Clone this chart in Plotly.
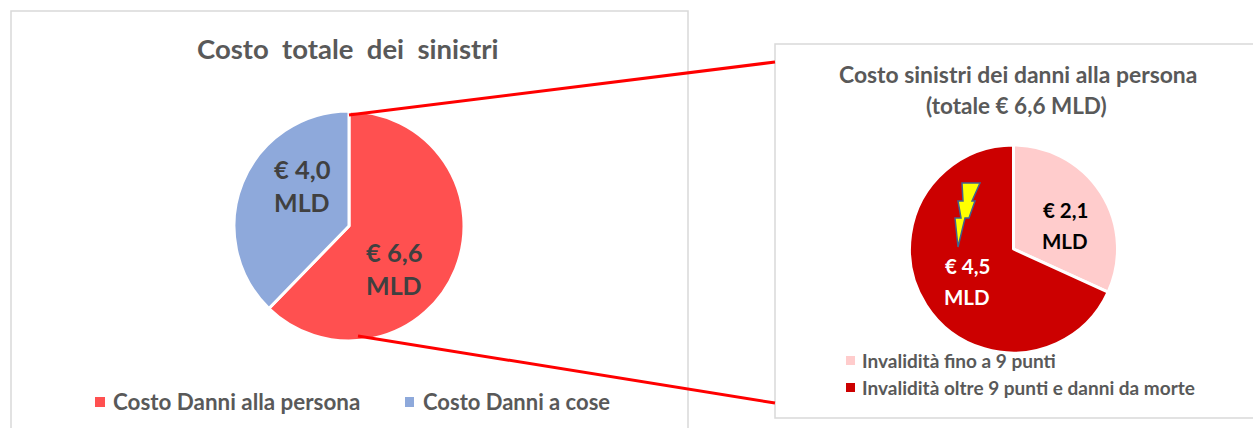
import plotly.graph_objects as go

W, H = 1253, 428

# Total claim cost, billions of euro
total_labels = ["Costo Danni alla persona", "Costo Danni a cose"]
total_values = [6.6, 4.0]
total_colors = ["#FF5050", "#8EA9DB"]

# Breakdown of personal injury cost, billions of euro
injury_labels = ["Invalidità fino a 9 punti", "Invalidità oltre 9 punti e danni da morte"]
injury_values = [2.1, 4.5]
injury_colors = ["#FFCCCC", "#CC0000"]

title_left = "Costo  totale  dei  sinistri"
title_right = ["Costo sinistri dei danni alla persona", "(totale € 6,6 MLD)"]

FONT = "Lato"
GREY = "#595959"


def px(x):
    return x / W


def py(y):
    return 1 - y / H


def money(v):
    return "€ " + f"{v:.1f}".replace(".", ",")


def pie(labels, values, colors, cx, cy, r):
    return go.Pie(
        labels=labels, values=values, sort=False, direction="clockwise", rotation=0,
        marker=dict(colors=colors, line=dict(color="white", width=3)),
        textinfo="none", hoverinfo="label+value", showlegend=False,
        domain=dict(x=[px(cx - r), px(cx + r)], y=[py(cy + r), py(cy - r)]),
    )


def text(s, x, y, size, color=GREY, anchor="center"):
    return dict(text=f"<b>{s}</b>", x=px(x), y=py(y), xref="paper", yref="paper",
                xanchor=anchor, yanchor="middle", showarrow=False,
                font=dict(family=FONT, size=size, color=color))


def rect(x0, y0, x1, y1, fill=None, line=None, width=0):
    return dict(type="rect", xref="paper", yref="paper",
                x0=px(x0), x1=px(x1), y0=py(y0), y1=py(y1),
                fillcolor=fill or "rgba(0,0,0,0)",
                line=dict(color=line or "rgba(0,0,0,0)", width=width))


def segment(x0, y0, x1, y1):
    return dict(type="line", xref="paper", yref="paper",
                x0=px(x0), x1=px(x1), y0=py(y0), y1=py(y1),
                line=dict(color="#FF0000", width=3))


bolt_outline = [(962, 183), (980, 183), (972, 201), (975, 201), (969, 218), (965, 218),
                (958, 247), (955, 218), (961, 218), (958, 201), (963, 201)]
bolt_path = "M " + " L ".join(f"{px(x):.5f} {py(y):.5f}" for x, y in bolt_outline) + " Z"

shapes = [
    rect(11, 11, 688, 440, line="#D9D9D9", width=1.5),
    rect(775, 44, 1260, 418, line="#D9D9D9", width=1.5),
    segment(349, 115, 775, 62),
    segment(358, 336, 775, 403),
    dict(type="path", xref="paper", yref="paper", path=bolt_path,
         fillcolor="#FFFF00", line=dict(color="#41628F", width=1.5)),
    rect(95, 397, 105, 407, fill=total_colors[0]),
    rect(405, 397, 414, 407, fill=total_colors[1]),
    rect(846, 356, 855, 365, fill=injury_colors[0]),
    rect(846, 383, 855, 392, fill=injury_colors[1]),
]

annotations = [
    text(title_left, 348, 48, 27.5),
    text(title_right[0], 1017.5, 74, 22.9),
    text(title_right[1], 1016, 106, 22.5),
    text(money(total_values[0]), 394, 252, 25.5, "#404040"),
    text("MLD", 394, 285, 25, "#404040"),
    text(money(total_values[1]), 302, 169, 25.5, "#404040"),
    text("MLD", 302, 202, 25, "#404040"),
    text(money(injury_values[0]), 1065, 210, 20.5, "#000000"),
    text("MLD", 1065, 241, 20.5, "#000000"),
    text(money(injury_values[1]), 967, 266, 20.5, "#FFFFFF"),
    text("MLD", 967, 297, 20.5, "#FFFFFF"),
    text(total_labels[0], 111, 401, 22.4, anchor="left"),
    text(total_labels[1], 421, 401, 22, anchor="left"),
    text(injury_labels[0], 860, 360, 19, anchor="left"),
    text(injury_labels[1], 860, 387, 19, anchor="left"),
]

fig = go.Figure([
    pie(total_labels, total_values, total_colors, 349, 226, 115),
    pie(injury_labels, injury_values, injury_colors, 1013.5, 249, 104),
])
fig.update_layout(
    width=W, height=H, margin=dict(l=0, r=0, t=0, b=0),
    paper_bgcolor="white", plot_bgcolor="white",
    shapes=shapes, annotations=annotations,
)
fig.write_html("out.html", config=dict(displayModeBar=False))
